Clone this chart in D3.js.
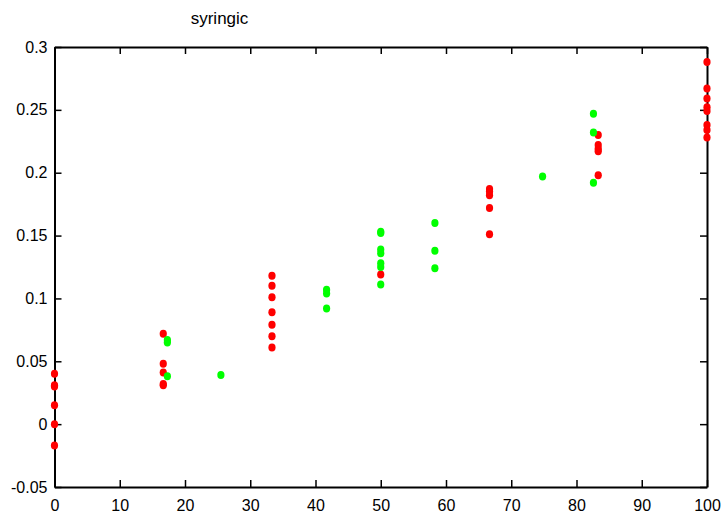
<!DOCTYPE html>
<html>
<head>
<meta charset="utf-8">
<script src="https://cdn.jsdelivr.net/npm/d3@7"></script>
<style>
  body { margin: 0; background: #fff; }
  svg text { font-family: "Liberation Sans", Arial, Helvetica, sans-serif; }
</style>
</head>
<body>
<div id="chart"></div>
<script>
// red series
const redX = [0, 0, 0, 0, 0, 0,
  16.67, 16.67, 16.67, 16.67, 16.67,
  33.33, 33.33, 33.33, 33.33, 33.33, 33.33, 33.33,
  50,
  66.67, 66.67, 66.67, 66.67, 66.67,
  83.33, 83.33, 83.33, 83.33, 83.33,
  100, 100, 100, 100, 100, 100, 100, 100];
const redY = [0.040, 0.031, 0.030, 0.015, 0.000, -0.017,
  0.072, 0.048, 0.041, 0.032, 0.031,
  0.118, 0.110, 0.101, 0.089, 0.079, 0.070, 0.061,
  0.119,
  0.187, 0.185, 0.182, 0.172, 0.151,
  0.230, 0.222, 0.219, 0.217, 0.198,
  0.288, 0.267, 0.259, 0.252, 0.249, 0.238, 0.234, 0.228];

// green series
const greenX = [17.3, 17.3, 17.3,
  25.5,
  41.7, 41.7, 41.7,
  50, 50, 50, 50, 50, 50, 50,
  58.3, 58.3, 58.3,
  74.8,
  82.6, 82.6, 82.6];
const greenY = [0.067, 0.065, 0.038,
  0.039,
  0.107, 0.104, 0.092,
  0.153, 0.152, 0.139, 0.136, 0.128, 0.125, 0.111,
  0.160, 0.138, 0.124,
  0.197,
  0.247, 0.232, 0.192];

const xTicks = [0, 10, 20, 30, 40, 50, 60, 70, 80, 90, 100];
const yTicks = [-0.05, 0, 0.05, 0.1, 0.15, 0.2, 0.25, 0.3];
const title = 'syringic';

const W = 722, H = 516;
const plot = {left: 54.5, right: 707, top: 47, bottom: 487};

const svg = d3.select('#chart').append('svg')
  .attr('width', W)
  .attr('height', H);

const x = d3.scaleLinear().domain([0, 100]).range([plot.left, plot.right]);
const y = d3.scaleLinear().domain([-0.05, 0.3]).range([plot.bottom, plot.top]);

const fmt = d => String(+d.toFixed(2));
const tick = 7;

// Bottom axis (ticks inward)
svg.append('g')
  .attr('class', 'axis axis--x')
  .attr('transform', 'translate(0,' + plot.bottom + ')')
  .call(d3.axisBottom(x).tickValues(xTicks).tickFormat(fmt)
    .tickSizeInner(-tick).tickSizeOuter(0).tickPadding(13));

// Top axis, no labels
svg.append('g')
  .attr('class', 'axis axis--top')
  .attr('transform', 'translate(0,' + plot.top + ')')
  .call(d3.axisTop(x).tickValues(xTicks).tickFormat('')
    .tickSizeInner(-tick).tickSizeOuter(0));

// Left axis
svg.append('g')
  .attr('class', 'axis axis--y')
  .attr('transform', 'translate(' + plot.left + ',0)')
  .call(d3.axisLeft(y).tickValues(yTicks).tickFormat(fmt)
    .tickSizeInner(-tick).tickSizeOuter(0).tickPadding(7));

// Right axis, no labels
svg.append('g')
  .attr('class', 'axis axis--right')
  .attr('transform', 'translate(' + plot.right + ',0)')
  .call(d3.axisRight(y).tickValues(yTicks).tickFormat('')
    .tickSizeInner(-tick).tickSizeOuter(0));

svg.selectAll('.axis path.domain')
  .attr('stroke', '#000')
  .attr('stroke-width', 2);
svg.selectAll('.axis .tick line')
  .attr('stroke', '#000')
  .attr('stroke-width', 1.5);
svg.selectAll('.axis text')
  .attr('fill', '#000')
  .attr('font-size', '16px');

// Title
svg.append('text')
  .attr('x', 219.5)
  .attr('y', 24)
  .attr('text-anchor', 'middle')
  .attr('font-size', '17px')
  .attr('fill', '#000')
  .text(title);

// Dots (green drawn over red)
const red = redX.map((v, i) => ({x: v, y: redY[i]}));
const green = greenX.map((v, i) => ({x: v, y: greenY[i]}));

svg.append('g')
  .attr('class', 'dots dots-red')
  .selectAll('ellipse')
  .data(red)
  .enter().append('ellipse')
    .attr('cx', d => x(d.x))
    .attr('cy', d => y(d.y))
    .attr('rx', 3.6)
    .attr('ry', 4)
    .attr('fill', '#ff0000');

svg.append('g')
  .attr('class', 'dots dots-green')
  .selectAll('ellipse')
  .data(green)
  .enter().append('ellipse')
    .attr('cx', d => x(d.x))
    .attr('cy', d => y(d.y))
    .attr('rx', 3.6)
    .attr('ry', 4)
    .attr('fill', '#00ff00');
</script>
</body>
</html>
